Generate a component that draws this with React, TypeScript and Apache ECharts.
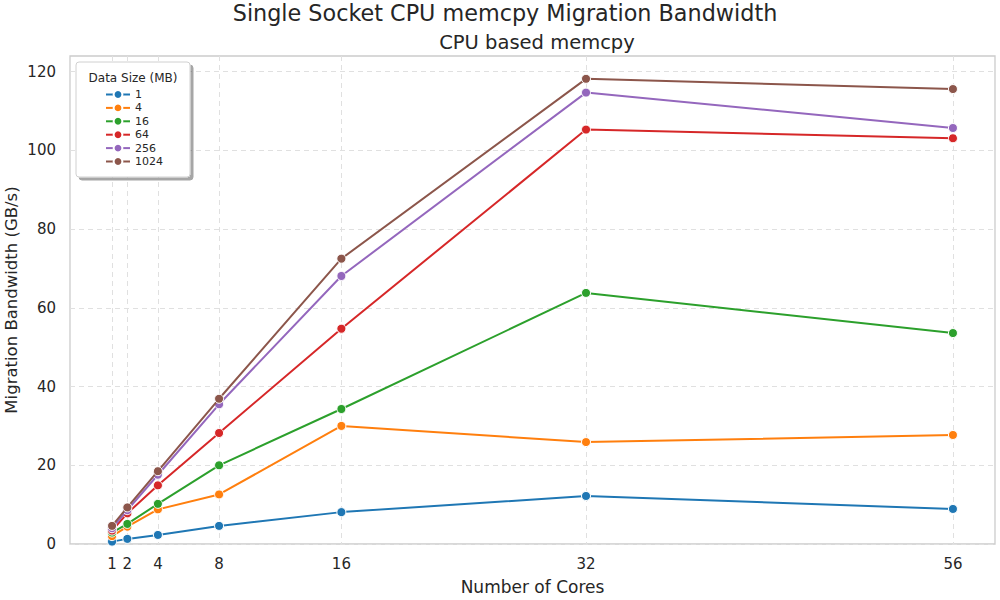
import React, { useEffect, useRef } from "react";
import * as echarts from "echarts";

const cores = [1, 2, 4, 8, 16, 32, 56];
const sizes = ["1", "4", "16", "64", "256", "1024"];
const bw1 = [0.6, 1.3, 2.3, 4.6, 8.1, 12.2, 8.9];
const bw4 = [2.0, 4.4, 8.8, 12.6, 30.0, 25.9, 27.7];
const bw16 = [2.9, 5.1, 10.2, 20.0, 34.3, 63.8, 53.6];
const bw64 = [3.4, 7.8, 14.9, 28.2, 54.7, 105.3, 103.1];
const bw256 = [4.0, 8.6, 17.6, 35.5, 68.1, 114.7, 105.7];
const bw1024 = [4.6, 9.3, 18.5, 36.9, 72.5, 118.2, 115.6];
const yTicks = [0, 20, 40, 60, 80, 100, 120];
const colors = ["#1f77b4", "#ff7f0e", "#2ca02c", "#d62728", "#9467bd", "#8c564b"];

const FONT = "DejaVu Sans";

export default function App() {
  const ref = useRef<HTMLDivElement>(null);
  useEffect(() => {
    if (!ref.current) return;
    const chart = echarts.init(ref.current, null, { renderer: "svg" });
    const all = [bw1, bw4, bw16, bw64, bw256, bw1024];
    const series = all.map((vals, i) => ({
      name: sizes[i],
      type: "line",
      data: cores.map((c, j) => [c, vals[j]]),
      symbol: "circle",
      symbolSize: 9,
      lineStyle: { width: 2, color: colors[i] },
      itemStyle: { color: colors[i], borderColor: "#fff", borderWidth: 1 },
      z: 2 + i,
    }));
    chart.setOption({
      animation: false,
      textStyle: { fontFamily: FONT },
      title: [
        {
          text: "Single Socket CPU memcpy Migration Bandwidth",
          left: 500,
          textAlign: "center",
          top: -3,
          textStyle: { fontFamily: FONT, fontSize: 22.3, fontWeight: "normal", color: "#262626" },
        },
        {
          text: "CPU based memcpy",
          left: 532,
          textAlign: "center",
          top: 27,
          textStyle: { fontFamily: FONT, fontSize: 19.5, fontWeight: "normal", color: "#262626" },
        },
      ],
      grid: {
        left: 70,
        right: 5,
        top: 56,
        bottom: 56,
        show: true,
        borderColor: "#cccccc",
        borderWidth: 1.3,
        containLabel: false,
        outerBoundsMode: "none",
      },
      legend: {
        orient: "vertical",
        left: 100,
        top: 84,
        itemWidth: 24,
        itemHeight: 11,
        itemGap: 2.4,
        data: sizes,
        textStyle: { fontFamily: FONT, fontSize: 11, color: "#262626" },
        z: 10,
      },
      graphic: [
        {
          type: "rect",
          shape: { x: 76, y: 62, width: 114, height: 115, r: 3 },
          style: {
            fill: "#ffffff",
            stroke: "#d0d0d0",
            lineWidth: 1,
            shadowBlur: 0,
            shadowOffsetX: 3,
            shadowOffsetY: 3,
            shadowColor: "rgba(0,0,0,0.35)",
          },
          z: 5,
        },
        {
          type: "text",
          x: 133,
          y: 72,
          style: {
            text: "Data Size (MB)",
            fontFamily: FONT,
            fontSize: 12,
            fill: "#262626",
            textAlign: "center",
          },
          z: 6,
        },
      ],
      xAxis: {
        type: "value",
        min: -1.75,
        max: 58.75,
        name: "Number of Cores",
        nameLocation: "middle",
        nameGap: 34,
        nameMoveOverlap: false,
        nameTextStyle: { fontFamily: FONT, fontSize: 17, color: "#262626" },
        axisLine: { show: false },
        axisTick: { show: false, customValues: cores },
        axisLabel: {
          customValues: cores,
          fontFamily: FONT,
          fontSize: 15,
          color: "#262626",
          margin: 12,
        },
        splitLine: { show: true, lineStyle: { color: "#e0e0e0", type: [5, 4], width: 1 } },
      },
      yAxis: {
        type: "value",
        min: 0,
        max: 124,
        name: "Migration Bandwidth (GB/s)",
        nameLocation: "middle",
        nameGap: 50,
        nameMoveOverlap: false,
        nameTextStyle: { fontFamily: FONT, fontSize: 16.5, color: "#262626" },
        axisLine: { show: false },
        axisTick: { show: false, customValues: yTicks },
        axisLabel: {
          customValues: yTicks,
          fontFamily: FONT,
          fontSize: 15,
          color: "#262626",
          margin: 14,
        },
        splitLine: { show: true, lineStyle: { color: "#e0e0e0", type: [5, 4], width: 1 } },
      },
      series,
    });
    return () => chart.dispose();
  }, []);
  return <div ref={ref} style={{ width: 1000, height: 600, position: "absolute", left: 0, top: 0 }} />;
}
